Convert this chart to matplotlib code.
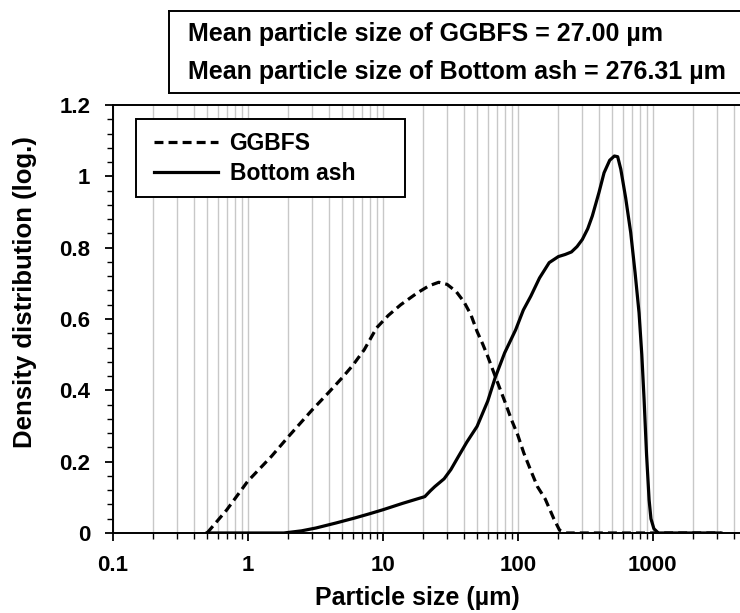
import numpy as np
import matplotlib
matplotlib.use('Agg')
import matplotlib.pyplot as plt
from matplotlib.ticker import LogLocator, MultipleLocator, FixedFormatter, FixedLocator
from matplotlib.patches import Rectangle
from matplotlib.lines import Line2D

plt.rcParams['font.family'] = ['Liberation Sans', 'DejaVu Sans']
plt.rcParams['font.weight'] = 'bold'

# particle size (um) and density distribution
ggbfs_x = [0.5, 0.7, 1.0, 1.5, 2.0, 3.0, 4.0, 5.0, 6.0, 7.3, 9.0, 11, 13.6, 18, 22, 26, 30, 35,
           40, 45, 50, 55, 60, 68, 80, 90, 100, 111, 125, 140, 160, 185, 204, 230, 3200]
ggbfs_y = [0.0, 0.065, 0.145, 0.215, 0.27, 0.345, 0.395, 0.435, 0.47, 0.514, 0.575, 0.61, 0.64,
           0.673, 0.693, 0.703, 0.697, 0.677, 0.648, 0.612, 0.565, 0.53, 0.495, 0.44, 0.37, 0.317,
           0.275, 0.224, 0.175, 0.13, 0.095, 0.04, 0.008, 0.0, 0.0]

ash_x = [0.5, 1.0, 1.85, 2.5, 3.2, 4.5, 6.2, 8, 10, 14, 20.5, 22.5, 24.3, 28.5, 32, 36.3, 42, 50,
         60, 68, 80, 96.6, 110, 125, 145, 171, 200, 225, 250, 275, 301, 330, 357, 400, 436, 480,
         520, 550, 580, 630, 687, 740, 792, 830, 863, 900, 940, 970, 1020, 1100, 3200]
ash_y = [0.0, 0.0, 0.0, 0.006, 0.014, 0.028, 0.042, 0.054, 0.065, 0.083, 0.102, 0.118, 0.13, 0.152,
         0.178, 0.214, 0.255, 0.299, 0.37, 0.435, 0.505, 0.57, 0.625, 0.664, 0.715, 0.758, 0.775,
         0.781, 0.788, 0.803, 0.823, 0.853, 0.889, 0.955, 1.01, 1.045, 1.057, 1.055, 1.02, 0.94,
         0.842, 0.73, 0.617, 0.5, 0.374, 0.22, 0.093, 0.04, 0.012, 0.0, 0.0]

xticks = [0.1, 1, 10, 100, 1000]
xticklabels = ['0.1', '1', '10', '100', '1000']
yticks = [0, 0.2, 0.4, 0.6, 0.8, 1.0, 1.2]
yticklabels = ['0', '0.2', '0.4', '0.6', '0.8', '1', '1.2']
mean_lines = ['Mean particle size of GGBFS = 27.00 µm',
              'Mean particle size of Bottom ash = 276.31 µm']

W, H = 740, 613
fig = plt.figure(figsize=(W / 100, H / 100), dpi=100)
ax_w, ax_h = W - 112.7, 533 - 105
ax = fig.add_axes([112.7 / W, 1 - 533 / H, ax_w / W, ax_h / H])

ax.plot(ggbfs_x, ggbfs_y, color='black', lw=2.3, dashes=(2.8, 1.6), label='GGBFS', zorder=3)
ax.plot(ash_x, ash_y, color='black', lw=2.3, label='Bottom ash', zorder=3)

ax.set_xscale('log')
ax.set_xlim(0.1, 4430)
ax.set_ylim(0, 1.2)

ax.xaxis.set_major_locator(FixedLocator(xticks))
ax.xaxis.set_major_formatter(FixedFormatter(xticklabels))
ax.xaxis.set_minor_locator(LogLocator(base=10, subs=np.arange(2, 10), numticks=20))
ax.xaxis.set_minor_formatter(plt.NullFormatter())
ax.yaxis.set_major_locator(FixedLocator(yticks))
ax.yaxis.set_major_formatter(FixedFormatter(yticklabels))
ax.yaxis.set_minor_locator(MultipleLocator(0.04))

ax.grid(True, which='both', axis='x', color='#c8c8c8', lw=1.0)
ax.set_axisbelow(True)

ax.tick_params(which='major', direction='out', length=6, width=1.3, labelsize=16, pad=10)
ax.tick_params(which='minor', direction='out', length=4, width=1.0)
for lab in ax.get_xticklabels() + ax.get_yticklabels():
    lab.set_fontweight('bold')

for s in ['left', 'bottom', 'top']:
    ax.spines[s].set_linewidth(1.4)
ax.spines['right'].set_visible(False)

fig.text(417.5 / W, 1 - 598 / H, 'Particle size (µm)', ha='center', va='center',
         fontsize=18, fontweight='bold')
fig.text(25 / W, 1 - 292 / H, 'Density distribution (log.)', ha='center', va='center',
         rotation=90, fontsize=18.5, fontweight='bold')

# legend: entries without frame, frame drawn as a box like the original
leg = ax.legend(loc='upper left', bbox_to_anchor=((154 - 112.7) / ax_w, (533 - 132) / ax_h),
                fontsize=16.5, frameon=False, handlelength=2.8, handletextpad=0.5,
                borderpad=0, labelspacing=0.3, borderaxespad=0)
for t in leg.get_texts():
    t.set_fontweight('bold')
ax.add_patch(Rectangle(((136 - 112.7) / ax_w, (533 - 197.3) / ax_h), (405 - 136) / ax_w,
                       (197.3 - 119.3) / ax_h, transform=ax.transAxes, fill=True,
                       facecolor='white', edgecolor='black', lw=1.4, zorder=4))
leg.set_zorder(5)

# box with the mean sizes, open on the right where the picture is cut
bx0, by0, by1 = 169 / W, 1 - 93 / H, 1 - 11 / H
for xs, ys in [([bx0, 1.05], [by0, by0]), ([bx0, 1.05], [by1, by1]), ([bx0, bx0], [by0, by1])]:
    fig.add_artist(Line2D(xs, ys, transform=fig.transFigure, color='black', lw=1.4))
fig.text(188 / W, 1 - 34 / H, mean_lines[0], ha='left', va='center', fontsize=18, fontweight='bold')
fig.text(188 / W, 1 - 72 / H, mean_lines[1], ha='left', va='center', fontsize=18, fontweight='bold')

fig.savefig('out.png', dpi=100)
